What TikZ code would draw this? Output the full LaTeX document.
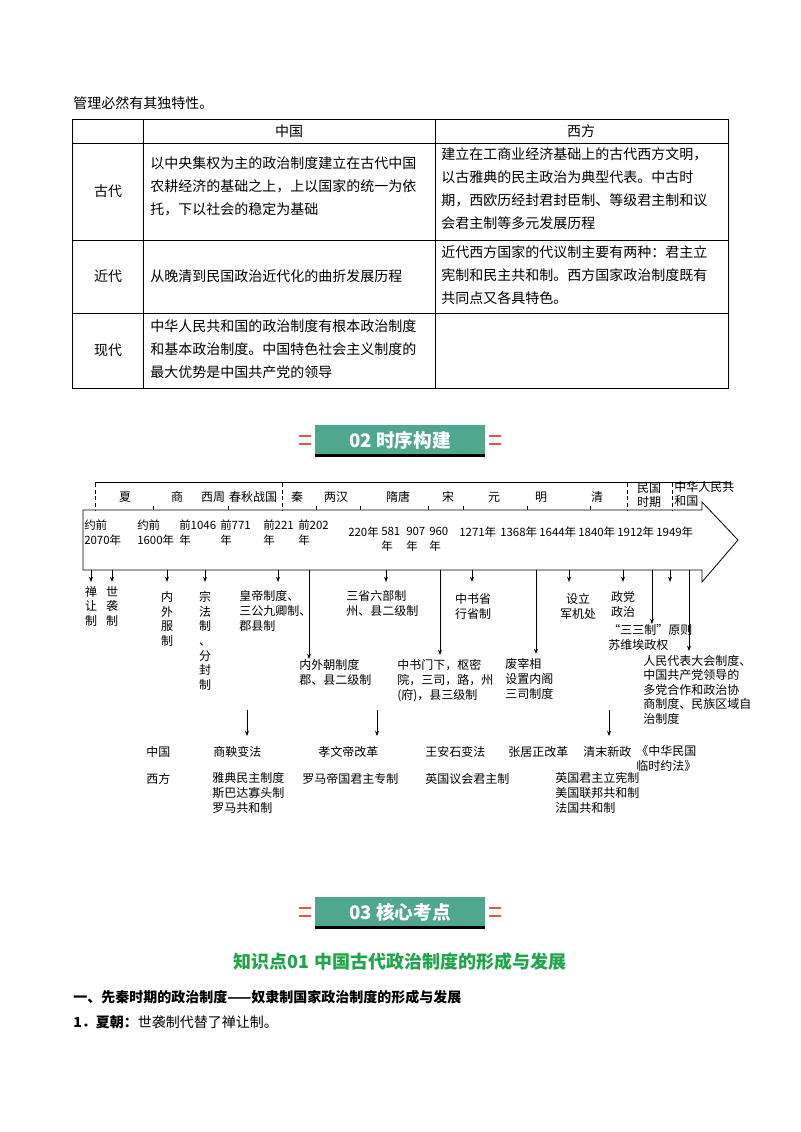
\documentclass[tikz,border=0pt]{standalone}
\usepackage{fontspec}
\setmainfont{Noto Sans CJK SC}
\usetikzlibrary{arrows.meta}
\definecolor{bannerg}{HTML}{4FA88E}
\definecolor{headg}{HTML}{1FA64A}
\definecolor{redm}{HTML}{E0554A}
\begin{document}
\begin{tikzpicture}[x=0.75pt,y=-0.75pt,
  tx/.style={inner sep=0pt,anchor=west,font=\fontsize{10.5}{12}\selectfont},
  tl/.style={inner sep=0pt,font=\fontsize{9}{11.25}\selectfont,align=left},
  tlw/.style={tl,anchor=north west},
  dt/.style={tlw,font=\fontsize{8.6}{11.25}\selectfont},
  vt/.style={tl,anchor=north,align=center,font=\fontsize{9}{11}\selectfont},
  ar/.style={-{Stealth[length=4pt,width=3pt]},line width=0.6pt},
  dsh/.style={densely dashed,line width=0.5pt},
  banner/.style={fill=bannerg,minimum width=127.5pt,minimum height=22.5pt,inner sep=0pt,text=white,font=\fontsize{14}{16}\bfseries\selectfont}]
\useasboundingbox (0,0) rectangle (800,1132);
\fill[white] (0,0) rectangle (800,1132);
\node[tx] (intro) at (73,103) {管理必然有其独特性。};
% table
\draw[line width=0.5pt] (72,119) rectangle (728,388);
\foreach \yy in {143,240,313} \draw[line width=0.5pt] (72,\yy) -- (728,\yy);
\draw[line width=0.5pt] (143,119) -- (143,388) (435,119) -- (435,388);
\node[tx,anchor=center] (h1) at (289,131) {中国};
\node[tx,anchor=center] (h2) at (581,131) {西方};
\node[tx,anchor=center] (r1) at (108,191) {古代};
\node[tx,anchor=center] (r2) at (108,276) {近代};
\node[tx,anchor=center] (r3) at (108,350) {现代};
\node[tx,anchor=north west,align=left,font=\fontsize{10.5}{17.25}\selectfont] (c11) at (150,156) {以中央集权为主的政治制度建立在古代中国\\农耕经济的基础之上，上以国家的统一为依\\托，下以社会的稳定为基础};
\node[tx,anchor=north west,align=left,font=\fontsize{10.5}{17.25}\selectfont] (c12) at (441,147) {建立在工商业经济基础上的古代西方文明，\\以古雅典的民主政治为典型代表。中古时\\期，西欧历经封君封臣制、等级君主制和议\\会君主制等多元发展历程};
\node[tx] (c21) at (150,276) {从晚清到民国政治近代化的曲折发展历程};
\node[tx,anchor=north west,align=left,font=\fontsize{10.5}{17.25}\selectfont] (c22) at (441,245) {近代西方国家的代议制主要有两种：君主立\\宪制和民主共和制。西方国家政治制度既有\\共同点又各具特色。};
\node[tx,anchor=north west,align=left,font=\fontsize{10.5}{17.25}\selectfont] (c31) at (150,319) {中华人民共和国的政治制度有根本政治制度\\和基本政治制度。中国特色社会主义制度的\\最大优势是中国共产党的领导};
% banner 02
\node[banner] (b2) at (400,440) {02 时序构建};
\draw[line width=2pt] (b2.south west) -- (b2.south east);
\foreach \yy in {436,444} {\draw[redm,line width=2.2pt] (299,\yy) -- (311,\yy); \draw[redm,line width=2.2pt] (489,\yy) -- (501,\yy);}
% timeline frame
\draw[line width=0.6pt] (95,482) -- (730,482);
\draw[line width=0.6pt] (83,510) -- (702,510) -- (702,502) -- (738,540) -- (702,582) -- (702,570) -- (83,570) -- cycle;
\foreach \xx in {95,282,627,672} \draw[dsh] (\xx,483) -- (\xx,510);
\foreach \xx in {153,228,316,360,428,463,527,590} \draw[line width=0.5pt] (\xx,506) -- (\xx,510);
\node[tl] (e1) at (125,497) {夏};
\node[tl] (e2) at (177,497) {商};
\node[tl] (e3) at (213,497) {西周};
\node[tl] (e4) at (253,497) {春秋战国};
\node[tl] (e5) at (297,497) {秦};
\node[tl] (e6) at (336,497) {两汉};
\node[tl] (e7) at (398,497) {隋唐};
\node[tl] (e8) at (448,497) {宋};
\node[tl] (e9) at (494,497) {元};
\node[tl] (e10) at (541,497) {明};
\node[tl] (e11) at (597,497) {清};
\node[tl,align=center,font=\fontsize{9}{10.5}\selectfont] (e12) at (649,495) {民国\\时期};
\node[tl,anchor=west,font=\fontsize{9}{10.5}\selectfont] (e13) at (674,494) {中华人民共\\和国};
% dates
\node[dt] (d1) at (84,520) {约前\\2070年};
\node[dt] (d2) at (137,520) {约前\\1600年};
\node[dt] (d3) at (179,520) {前1046\\年};
\node[dt] (d4) at (220,520) {前771\\年};
\node[dt] (d5) at (263,520) {前221\\年};
\node[dt] (d6) at (298,520) {前202\\年};
\node[dt] (d7) at (348,527) {220年};
\node[dt] (d8) at (381,527) {581\\年};
\node[dt] (d9) at (406,527) {907\\年};
\node[dt] (d10) at (429,527) {960\\年};
\node[dt] (d11) at (459,527) {1271年};
\node[dt] (d12) at (500,527) {1368年};
\node[dt] (d13) at (539,527) {1644年};
\node[dt] (d14) at (578,527) {1840年};
\node[dt] (d15) at (617,527) {1912年};
\node[dt] (d16) at (656,527) {1949年};
% labels below
\node[vt] (l1) at (91,586) {禅\\让\\制};
\node[vt] (l2) at (112,586) {世\\袭\\制};
\node[vt] (l3) at (167,591) {内\\外\\服\\制};
\node[vt] (l4) at (205,591) {宗\\法\\制\\、\\分\\封\\制};
\node[tlw] (l5) at (239,590) {皇帝制度、\\三公九卿制、\\郡县制};
\node[tlw] (l6) at (346,590) {三省六部制\\州、县二级制};
\node[tl,anchor=north,align=center] (l7) at (473,593) {中书省\\行省制};
\node[tl,anchor=north,align=center] (l8) at (578,593) {设立\\军机处};
\node[tl,anchor=north,align=center] (l9) at (623,591) {政党\\政治};
\node[tlw] (l10) at (608,624) {“三三制”原则\\苏维埃政权};
\node[tlw] (l11) at (299,659) {内外朝制度\\郡、县二级制};
\node[tlw] (l12) at (397,659) {中书门下，枢密\\院，三司，路，州\\(府)，县三级制};
\node[tlw] (l13) at (505,658) {废宰相\\设置内阁\\三司制度};
\node[tlw,font=\fontsize{9}{10.8}\selectfont] (l14) at (643,655) {人民代表大会制度、\\中国共产党领导的\\多党合作和政治协\\商制度、民族区域自\\治制度};
\foreach \xx/\t in {91/l1,112/l2,167/l3,205/l4,278/l5,386/l6,472/l7,569/l8,623/l9} \draw[ar] (\xx,570) -- (\xx,582);
\coordinate (s1) at (670,570); \coordinate (s1e) at (670,582);
\draw[ar] (s1) -- (s1e);
\draw[ar] (309,570) -- (l11.north west -| 309,0) ;
\draw[ar] (440,570) -- (440,655);
\draw[ar] (536,570) -- (536,654);
\draw[ar] (652,570) -- (l10.north -| 652,0);
\draw[ar] (689,570) -- (689,651);
% middle arrows
\foreach \xx in {247,377,609} \draw[ar] (\xx,710) -- (\xx,736);
% bottom rows
\node[tl,anchor=west] (cn) at (146,752) {中国};
\node[tl,anchor=west] (cn1) at (213,752) {商鞅变法};
\node[tl,anchor=west] (cn2) at (318,752) {孝文帝改革};
\node[tl,anchor=west] (cn3) at (425,752) {王安石变法};
\node[tl,anchor=west] (cn4) at (508,752) {张居正改革};
\node[tl,anchor=west] (cn5) at (583,752) {清末新政};
\node[tlw,align=center] (cn6) at (636,745) {《中华民国\\临时约法》};
\node[tl,anchor=west] (we) at (146,779) {西方};
\node[tlw] (we1) at (212,772) {雅典民主制度\\斯巴达寡头制\\罗马共和制};
\node[tl,anchor=west] (we2) at (302,779) {罗马帝国君主专制};
\node[tl,anchor=west] (we3) at (425,779) {英国议会君主制};
\node[tlw] (we4) at (555,772) {英国君主立宪制\\美国联邦共和制\\法国共和制};
% banner 03
\node[banner] (b3) at (400,912) {03 核心考点};
\draw[line width=2pt] (b3.south west) -- (b3.south east);
\foreach \yy in {908,916} {\draw[redm,line width=2.2pt] (299,\yy) -- (311,\yy); \draw[redm,line width=2.2pt] (489,\yy) -- (501,\yy);}
\node[inner sep=0pt,text=headg,font=\fontsize{13.5}{15}\bfseries\selectfont] (k1) at (400,962) {知识点01 中国古代政治制度的形成与发展};
\node[tx,font=\fontsize{10.5}{12}\bfseries\selectfont] (s1t) at (73,997) {一、先秦时期的政治制度——奴隶制国家政治制度的形成与发展};
\node[tx] (p1) at (73,1022) {\textbf{1．夏朝：}世袭制代替了禅让制。};
\end{tikzpicture}
\end{document}
